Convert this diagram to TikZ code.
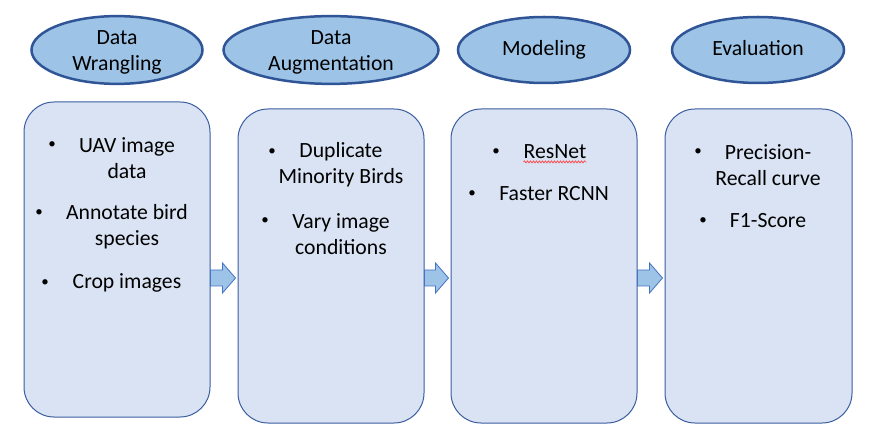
\documentclass[tikz,border=0pt]{standalone}
\usepackage{fontspec}
\setmainfont{Carlito}
\usetikzlibrary{shapes.geometric, calc, decorations.pathmorphing}

\definecolor{ovalfill}{HTML}{9DC3E6}
\definecolor{ovalline}{HTML}{2F5597}
\definecolor{panelfill}{HTML}{DAE3F3}
\definecolor{panelline}{HTML}{3A5DA0}
\definecolor{arrowline}{HTML}{4472C4}

\tikzset{
  stage/.style={ellipse, draw=ovalline, line width=2.5pt, fill=ovalfill, minimum width=171pt, minimum height=66pt, inner sep=0pt, align=center, font=\fontsize{21.7}{26}\selectfont},
  panel/.style={draw=panelline, line width=1pt, fill=panelfill, rounded corners=30pt, minimum width=186pt, minimum height=314pt, inner sep=0pt},
  item/.style={align=center, inner sep=0pt, font=\fontsize{21.7}{26}\selectfont},
  dot/.style={inner sep=0pt, font=\fontsize{15}{18}\selectfont},
  blockarrow/.style={draw=arrowline, fill=ovalfill, line width=0.8pt, line join=miter}
}

\begin{document}
\begin{tikzpicture}[x=1pt, y=-1pt]
	\useasboundingbox (0,0) rectangle (869,443);
	% stages
	\node[stage] (wrangle) at (117,50) {\strut Data\\Wrangling};
	\node[stage, minimum width=215pt] (augment) at (331,50) {\strut Data\\Augmentation};
	\node[stage, minimum width=172pt] (model) at (544,50) {\strut Modeling};
	\node[stage, minimum width=172pt] (evaluate) at (758,50) {\strut Evaluation};
	% panels
	\node[panel, minimum height=315pt] (wranglebox) at (117,259.5) {};
	\node[panel] (augmentbox) at (331,266) {};
	\node[panel] (modelbox) at (544,266) {};
	\node[panel, minimum width=187pt] (evaluatebox) at (758.5,266) {};
	% arrows between panels
	\foreach \a/\b in {wranglebox/augmentbox, augmentbox/modelbox, modelbox/evaluatebox}{
		\coordinate (tail) at (\a.east |- 0,278);
		\coordinate (tip) at ($(\b.west |- 0,278)+(-2,0)$);
		\draw[blockarrow] ($(tail)+(0,-8)$) -- ($(tip)+(-13,-8)$) -- ($(tip)+(-13,-15)$) -- (tip)
			-- ($(tip)+(-13,15)$) -- ($(tip)+(-13,8)$) -- ($(tail)+(0,8)$) -- cycle;
	}
	% data wrangling items
	\node[dot] (d1) at (52,145) {\textbullet};
	\node[item] (uav) at (127,158) {UAV image\\data};
	\node[dot] (d2) at (39,213) {\textbullet};
	\node[item] (annotate) at (127,226.5) {Annotate bird\\species};
	\node[dot] (d3) at (45,283) {\textbullet};
	\node[item] (crop) at (127,283) {Crop images};
	% augmentation items
	\node[dot] (d4) at (272,152) {\textbullet};
	\node[item] (duplicate) at (341,165) {Duplicate\\Minority Birds};
	\node[dot] (d5) at (265,221) {\textbullet};
	\node[item] (vary) at (341,234) {Vary image\\conditions};
	% modeling items
	\node[dot] (d6) at (496,152) {\textbullet};
	\node[item] (resnet) at (555,152) {ResNet};
	\draw[red!75, line width=0.7pt, decorate, decoration={snake, amplitude=1pt, segment length=3pt}]
		($(resnet.base west)+(0,3)$) -- ($(resnet.base east)+(0,3)$);
	\node[dot] (d7) at (472,194) {\textbullet};
	\node[item] (rcnn) at (554,194) {Faster RCNN};
	% evaluation items
	\node[dot] (d8) at (698,152) {\textbullet};
	\node[item] (prcurve) at (768,165) {Precision-\\Recall curve};
	\node[dot] (d9) at (703,221) {\textbullet};
	\node[item] (fscore) at (768,221) {F1-Score};
\end{tikzpicture}
\end{document}
